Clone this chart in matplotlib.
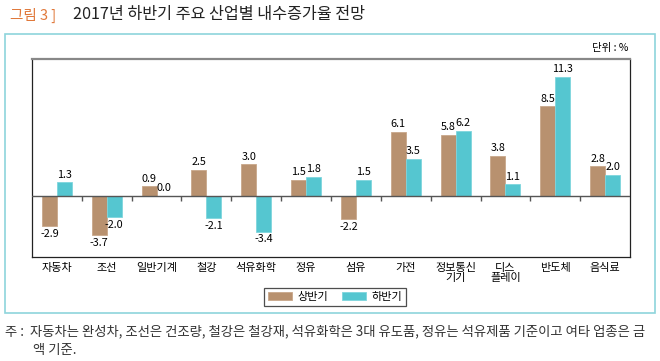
import numpy as np
import matplotlib
matplotlib.use("Agg")
import matplotlib.pyplot as plt
from matplotlib.patches import Rectangle

plt.rcParams['font.family'] = ['Noto Sans CJK KR', 'DejaVu Sans']

# data
categories = ["자동차", "조선", "일반기계", "철강", "석유화학", "정유",
              "섬유", "가전", "정보통신\n기기", "디스\n플레이", "반도체", "음식료"]
first_half = [-2.9, -3.7, 0.9, 2.5, 3.0, 1.5, -2.2, 6.1, 5.8, 3.8, 8.5, 2.8]
second_half = [1.3, -2.0, 0.0, -2.1, -3.4, 1.8, 1.5, 3.5, 6.2, 1.1, 11.3, 2.0]
series_names = ["상반기", "하반기"]

brown = "#B8916F"
cyan = "#55C6D0"

fig = plt.figure(figsize=(6.6, 3.61), dpi=100)

# outer light cyan frame
fig.patches.append(Rectangle((5/660, 1-313/361), 650/660, 279/361,
                             transform=fig.transFigure, fill=False,
                             edgecolor="#8ED4DC", linewidth=1.2))

fig.text(10/660, 1-15/361, "그림 3 ]", color="#E0783A", fontsize=10.5, va="center")
fig.text(73/660, 1-15/361, "2017년 하반기 주요 산업별 내수증가율 전망",
         color="#222222", fontsize=11.7, va="center")
fig.text(628/660, 1-48/361, "단위 : %", fontsize=7.5, ha="right", va="center")

ax = fig.add_axes([32/660, 1-257/361, 598/660, 198/361])
x = np.arange(len(categories))
w = 0.3
b1 = ax.bar(x - w/2, first_half, w, color=brown, edgecolor="#C9A78A",
            linewidth=0.6, label=series_names[0], zorder=2)
b2 = ax.bar(x + w/2, second_half, w, color=cyan, edgecolor="#7FD5DD",
            linewidth=0.6, label=series_names[1], zorder=2)

for xs, vals in [(x - w/2, first_half), (x + w/2, second_half)]:
    for xi, v in zip(xs, vals):
        if v >= 0:
            ax.text(xi, v + 0.25, f"{v:.1f}", ha="center", va="bottom", fontsize=7.8)
        else:
            ax.text(xi, v - 0.25, f"{v:.1f}", ha="center", va="top", fontsize=7.8)

ax.axhline(0, color="#555555", linewidth=1.0, zorder=3)
ax.vlines(np.arange(len(categories) - 1) + 0.5, -0.45, 0, color="#555555",
          linewidth=1.0, zorder=3)

ax.set_xlim(-0.5, len(categories) - 0.5)
ax.set_ylim(-5.8, 13.0)
ax.set_yticks([])
ax.set_xticks(x)
ax.set_xticklabels(categories, fontsize=8, linespacing=1.1)
ax.tick_params(axis="x", length=0, pad=4)
for s in ["left", "right", "bottom"]:
    ax.spines[s].set_color("#222222")
    ax.spines[s].set_linewidth(0.9)
ax.spines["top"].set_color("#888888")
ax.spines["top"].set_linewidth(1.6)

leg = fig.legend(handles=[b1, b2], loc="center", bbox_to_anchor=(335/660, 1-297/361),
                 ncol=2, fontsize=8, frameon=True, fancybox=False,
                 handlelength=2.2, handleheight=0.8, columnspacing=1.2,
                 borderpad=0.35, handletextpad=0.5)
leg.get_frame().set_edgecolor("#222222")
leg.get_frame().set_linewidth(0.9)

fig.text(5/660, 1-331/361, "주 :  자동차는 완성차, 조선은 건조량, 철강은 철강재, 석유화학은 3대 유도품, "
         "정유는 석유제품 기준이고 여타 업종은 금", fontsize=9.6, va="center", color="#333333")
fig.text(33/660, 1-350/361, "액 기준.", fontsize=9.6, va="center", color="#333333")

fig.savefig("out.png", dpi=100)
